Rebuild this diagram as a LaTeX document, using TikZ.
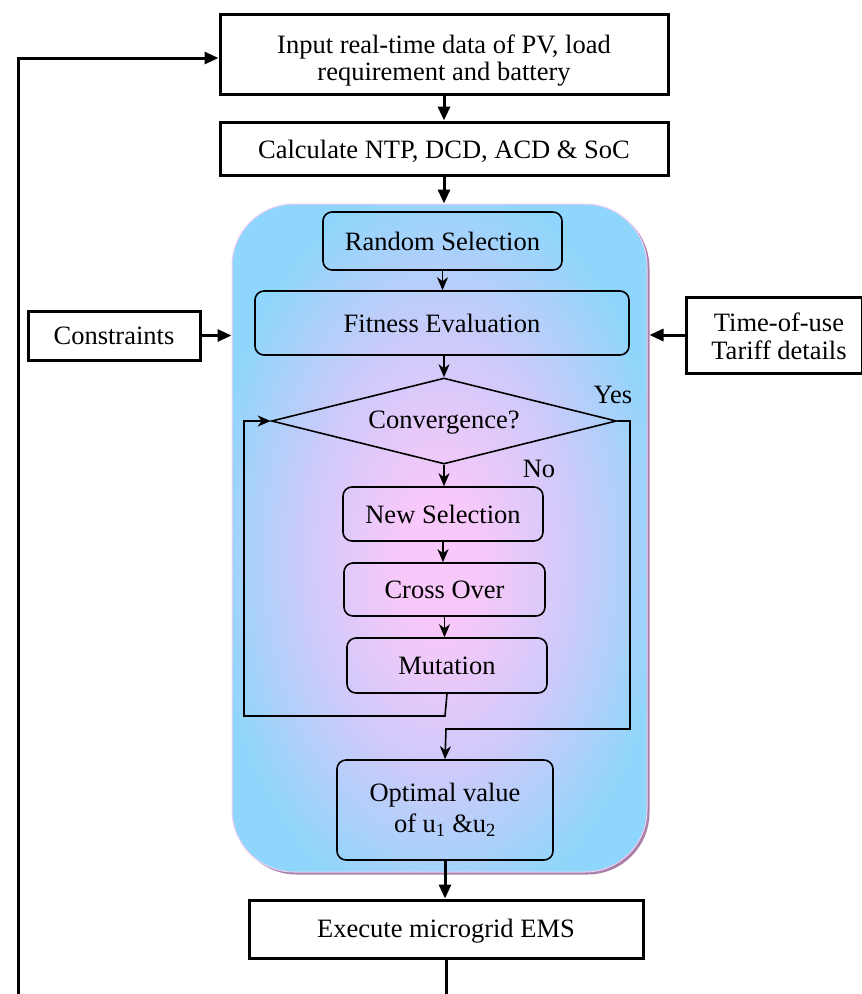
\documentclass[tikz,border=0pt]{standalone}
\usepackage{fontspec}
\setmainfont{Liberation Serif}
\usetikzlibrary{arrows.meta,shapes.geometric,calc}
\definecolor{gblue}{RGB}{142,214,251}
\definecolor{gpink}{RGB}{248,200,250}
\definecolor{glav}{RGB}{206,202,250}
\definecolor{gshadow}{RGB}{168,128,168}
\definecolor{gedge}{RGB}{242,206,244}
\pgfdeclareradialshading{gashade}{\pgfpoint{0bp}{-2bp}}{color(0bp)=(gpink); color(5bp)=(gpink); color(16bp)=(glav); color(28bp)=(gblue); color(50bp)=(gblue)}
\tikzset{
  obox/.style={draw, line width=3pt, fill=white, inner sep=0pt, align=center},
  ibox/.style={draw, line width=1.6pt, rounded corners=9pt, inner sep=0pt, align=center},
  oarr/.style={line width=3pt, -{Triangle[length=14pt,width=12pt]}},
  iarr/.style={line width=1.6pt, -{Stealth[length=13pt,width=11pt,inset=4pt]}},
  lbl/.style={inner sep=0pt}
}
\begin{document}
\begin{tikzpicture}[x=1pt,y=-1pt,font=\fontsize{26.5}{27}\selectfont]
\useasboundingbox (0,0) rectangle (862,994);
\clip (0,0) rectangle (862,994);
% big rounded panel
\fill[gshadow, rounded corners=62pt] (234.5,206) rectangle (649.5,874.5);
\node[minimum width=415pt, minimum height=668pt, inner sep=0pt, rounded corners=62pt,
      shading=gashade, draw=gedge, line width=1pt] (big) at (439.5,538) {};
% outer boxes
\node[obox, minimum width=448pt, minimum height=80pt] (inp) at (444,54)
  {\rule{0pt}{32pt}Input real-time data of PV, load\\requirement and battery};
\node[obox, minimum width=448pt, minimum height=53pt] (calc) at (444,148.5)
  {\rule{0pt}{24pt}Calculate NTP, DCD, ACD \& SoC};
\node[obox, minimum width=172pt, minimum height=49pt] (cons) at (114,335.5) {Constraints};
\node[obox, minimum width=176pt, minimum height=76pt, font=\fontsize{26.5}{28}\selectfont] (tou) at (774,335)
  {\rule{0pt}{22pt}\hspace*{10pt}Time-of-use\\\hspace*{10pt}Tariff details};
\node[obox, minimum width=394pt, minimum height=58pt] (ex) at (446,929) {\rule{0pt}{23pt}Execute microgrid EMS};
% inner boxes
\node[ibox, minimum width=239pt, minimum height=58pt] (rs) at (442.5,241) {Random Selection};
\node[ibox, minimum width=374pt, minimum height=64pt] (fe) at (442,323) {Fitness Evaluation};
\node[draw, line width=1.6pt, diamond, aspect=4.01, inner sep=0pt, minimum width=345pt, minimum height=86pt] (dia) at (444,421) {};
\node[lbl] at (444,423) {Convergence?};
\node[ibox, minimum width=200pt, minimum height=54pt] (ns) at (443,514) {New Selection};
\node[ibox, minimum width=201pt, minimum height=53pt] (co) at (444.5,589.5) {Cross Over};
\node[ibox, minimum width=200pt, minimum height=55pt] (mu) at (447,665.5) {Mutation};
\node[ibox, minimum width=216pt, minimum height=100pt, font=\fontsize{26.5}{31}\selectfont] (op) at (445,810)
  {Optimal value\\of u\textsubscript{1} \&u\textsubscript{2}};
\node[lbl] at (613,395) {Yes};
\node[lbl] at (539,469) {No};
% outer connectors
\draw[oarr] (inp.south) -- (calc.north);
\draw[oarr] (calc.south) -- (calc.south|-big.north);
\draw[oarr] (cons.east) -- (big.west|-cons.east);
\draw[oarr] (tou.west) -- ([xshift=2pt]big.east|-tou.west);
\draw[oarr] (op.south) -- (op.south|-ex.north);
\draw[oarr] (ex.south) -- (446,1010) -- (18,1010) |- ([yshift=-4pt]inp.west);
% inner connectors
\draw[iarr] (rs.south) -- (rs.south|-fe.north);
\draw[iarr] (dia.north|-fe.south) -- (dia.north);
\draw[iarr] (dia.south) -- (dia.south|-ns.north);
\draw[iarr] (ns.south) -- (ns.south|-co.north);
\draw[iarr] (co.south) -- (co.south|-mu.north);
\draw[iarr] (mu.south) -- (445,716) -- (244,716) |- (dia.west);
\draw[iarr] (dia.east) -- (630,421) -- (630,729) -- (446,729) -- (op.north);
\end{tikzpicture}
\end{document}
